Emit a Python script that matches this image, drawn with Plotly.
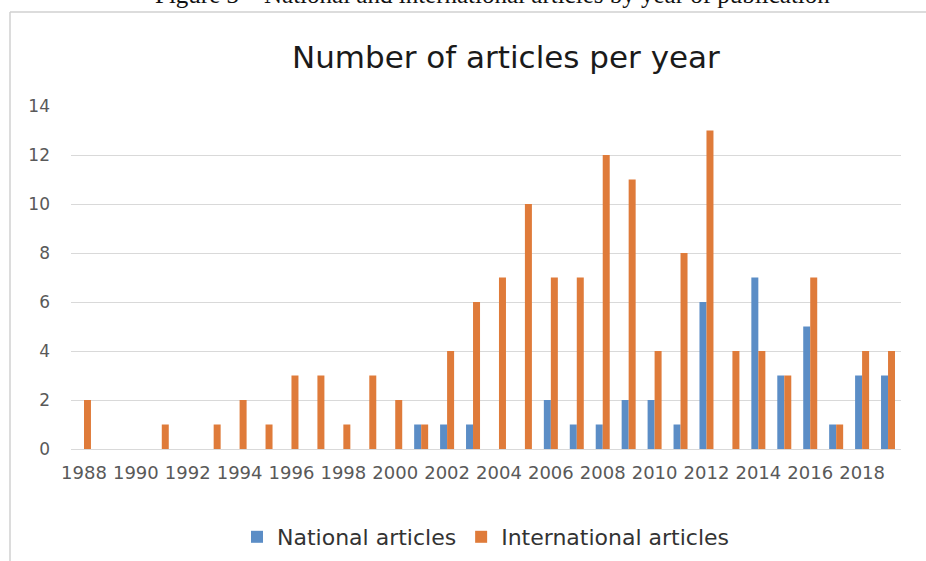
import plotly.graph_objects as go

years = [str(y) for y in range(1988, 2020)]
national = [0, 0, 0, 0, 0, 0, 0, 0, 0, 0, 0, 0, 0, 1, 1, 1, 0, 0, 2, 1, 1, 2, 2, 1, 6, 0, 7, 3, 5, 1, 3, 3]
international = [2, 0, 0, 1, 0, 1, 2, 1, 3, 3, 1, 3, 2, 1, 4, 6, 7, 10, 7, 7, 12, 11, 4, 8, 13, 4, 4, 3, 7, 1, 4, 4]
tick_years = [str(y) for y in range(1988, 2020, 2)]
y_ticks = [0, 2, 4, 6, 8, 10, 12, 14]

title_text = "Number of articles per year"
caption_text = "Figure 3 \u2013 National and international articles by year of publication"

W, H = 926, 561
L, R, T, B = 71, 25, 106, 112
pw = W - L - R
ph = H - T - B

def px_x(x):
    return (x - L) / pw

def px_y(y):
    return 1 + (T - y) / ph

fig = go.Figure()
fig.add_trace(go.Bar(x=years, y=national, name="National articles",
                     marker=dict(color="#5B8DC6", line=dict(width=0))))
fig.add_trace(go.Bar(x=years, y=international, name="International articles",
                     marker=dict(color="#DF7B3A", line=dict(width=0))))

fig.update_layout(
    width=W, height=H,
    margin=dict(l=L, r=R, t=T, b=B, autoexpand=False),
    paper_bgcolor="white", plot_bgcolor="white",
    barmode="group", bargap=0.46, bargroupgap=0,
    font=dict(family="DejaVu Sans", color="#595959"),
    title=dict(text=title_text, x=0.524, xanchor="center", xref="paper",
               y=1 - 57 / H, yref="container", yanchor="middle",
               font=dict(family="DejaVu Sans", size=31, color="#1a1a1a")),
    showlegend=True,
    legend=dict(orientation="h", x=0.5, xanchor="center", y=px_y(537), yanchor="middle",
                font=dict(family="DejaVu Sans", size=22, color="#333333"),
                itemwidth=30, traceorder="normal"),
    xaxis=dict(type="category", tickmode="array", tickvals=tick_years, ticktext=tick_years,
               showgrid=False, showline=True, linecolor="#d9d9d9", linewidth=1,
               ticks="", tickfont=dict(family="DejaVu Sans", size=18, color="#595959"),
               ticklabelstandoff=7, fixedrange=True, automargin=False),
    yaxis=dict(range=[0, 14], tickmode="array", tickvals=y_ticks,
               showgrid=True, gridcolor="#d9d9d9", gridwidth=1,
               zeroline=True, zerolinecolor="#d9d9d9", zerolinewidth=1,
               showline=False, ticks="",
               tickfont=dict(family="DejaVu Sans", size=17, color="#595959"),
               ticklabelstandoff=20, fixedrange=True, automargin=False),
    shapes=[
        dict(type="line", xref="paper", yref="paper", x0=px_x(10), x1=px_x(10),
             y0=px_y(12), y1=px_y(H + 5), line=dict(color="#d0d0d0", width=1.5)),
        dict(type="line", xref="paper", yref="paper", x0=px_x(10), x1=px_x(W + 5),
             y0=px_y(12), y1=px_y(12), line=dict(color="#d0d0d0", width=1.5)),
    ],
    annotations=[
        dict(text=caption_text, xref="paper", yref="paper", x=px_x(492), y=px_y(10),
             xanchor="center", yanchor="bottom", showarrow=False,
             font=dict(family="Liberation Serif", size=25, color="#111111")),
    ],
)

fig.write_html("out.html")
